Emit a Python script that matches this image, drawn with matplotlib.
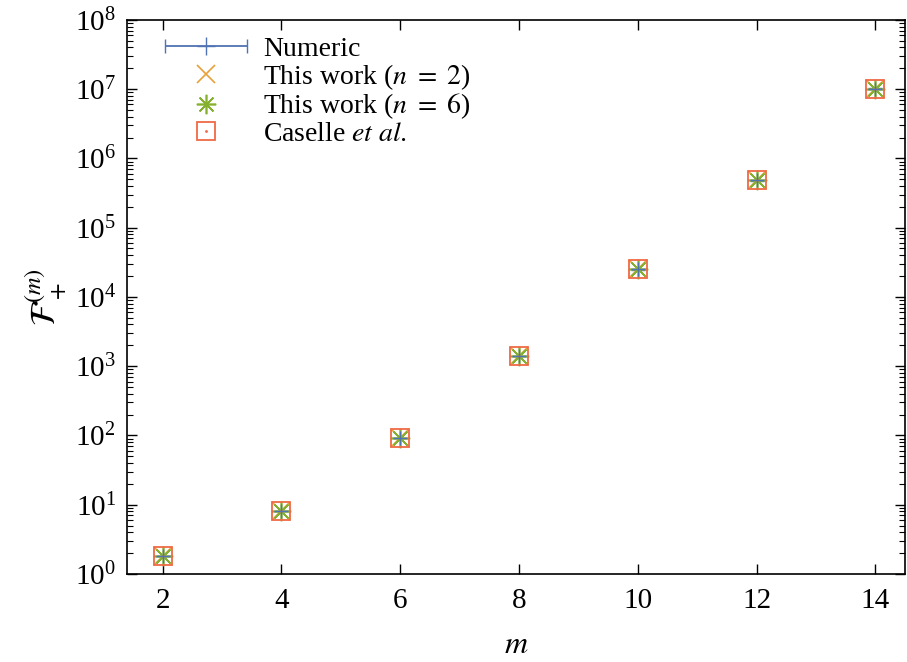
import matplotlib
matplotlib.use('Agg')
import matplotlib.pyplot as plt
import numpy as np
from matplotlib.legend_handler import HandlerErrorbar
from matplotlib.ticker import LogLocator, NullFormatter, LogFormatterMathtext

plt.rcParams['font.family'] = ['Liberation Serif', 'DejaVu Serif']
plt.rcParams['mathtext.fontset'] = 'stix'

m = [2, 4, 6, 8, 10, 12, 14]
numeric = [1.82, 8.1, 92, 1400, 25000, 480000, 1.02e7]
numeric_err = [0.02, 0.1, 1, 20, 400, 8000, 2e5]
work_n2 = [1.82, 8.1, 92, 1400, 25000, 480000, 1.02e7]
work_n6 = [1.82, 8.1, 92, 1400, 25000, 480000, 1.02e7]
caselle = [1.82, 8.1, 92, 1400, 25000, 480000, 1.02e7]

c_num = '#5073b3'
c_n2 = '#e8a13a'
c_n6 = '#86b02f'
c_cas = '#ef6a45'

fig = plt.figure(figsize=(9.07, 6.62), dpi=100)
ax = fig.add_axes([0.140, 0.133, 0.858, 0.837])

ax.errorbar(m, numeric, yerr=numeric_err, fmt='+', color=c_num, ms=10,
            capsize=5, elinewidth=1.3)
ax.plot(m, work_n2, 'x', color=c_n2, ms=13, mew=1.2)
ax.plot(m, work_n6, linestyle='none', marker=(8, 2, 0), color=c_n6, ms=14, mew=1.2)
ax.plot(m, caselle, 's', mfc='none', mec=c_cas, ms=13.5, mew=1.3)
ax.plot(m, caselle, '.', color=c_cas, ms=2)

# legend proxies
h_num = ax.errorbar([np.nan], [np.nan], xerr=[1], fmt='+', color=c_num, ms=13,
                    capsize=5, elinewidth=1.3)
h_n2, = ax.plot([], [], 'x', color=c_n2, ms=13, mew=1.2)
h_n6, = ax.plot([], [], linestyle='none', marker=(8, 2, 0), color=c_n6, ms=14, mew=1.2)
h_sq, = ax.plot([], [], 's', mfc='none', mec=c_cas, ms=13, mew=1.3)
h_dot, = ax.plot([], [], '.', color=c_cas, ms=2)

ax.legend([h_num, h_n2, h_n6, (h_sq, h_dot)],
          ['Numeric', r'This work ($n\ =\ 2$)', r'This work ($n\ =\ 6$)',
           r'Caselle $et\ al.$'],
          handler_map={h_num: HandlerErrorbar(xerr_size=1.48)},
          loc='upper left', bbox_to_anchor=(0.025, 1.0), frameon=False,
          fontsize=20, handlelength=3.1, handletextpad=0.5, labelspacing=0.0,
          borderaxespad=0.2)

ax.set_yscale('log')
ax.set_xlim(1.4, 14.5)
ax.set_ylim(1, 1e8)
ax.set_xticks(m)
ax.yaxis.set_major_locator(LogLocator(base=10, numticks=20))
ax.yaxis.set_major_formatter(LogFormatterMathtext())
ax.yaxis.set_minor_locator(LogLocator(base=10, subs=np.arange(2, 10), numticks=20))
ax.yaxis.set_minor_formatter(NullFormatter())
ax.tick_params(which='both', direction='in', top=True, right=True, labelsize=21)
ax.tick_params(which='major', length=7, width=1)
ax.tick_params(which='minor', length=4, width=0.8)
ax.tick_params(axis='x', pad=10)
ax.tick_params(axis='y', pad=8)
for s in ax.spines.values():
    s.set_linewidth(1.2)

ax.set_xlabel(r'$m$', fontsize=23, labelpad=12)
ax.set_ylabel(r'$\mathcal{F}_+^{(m)}$', fontsize=25, labelpad=4)

fig.savefig('out.png', dpi=100)
